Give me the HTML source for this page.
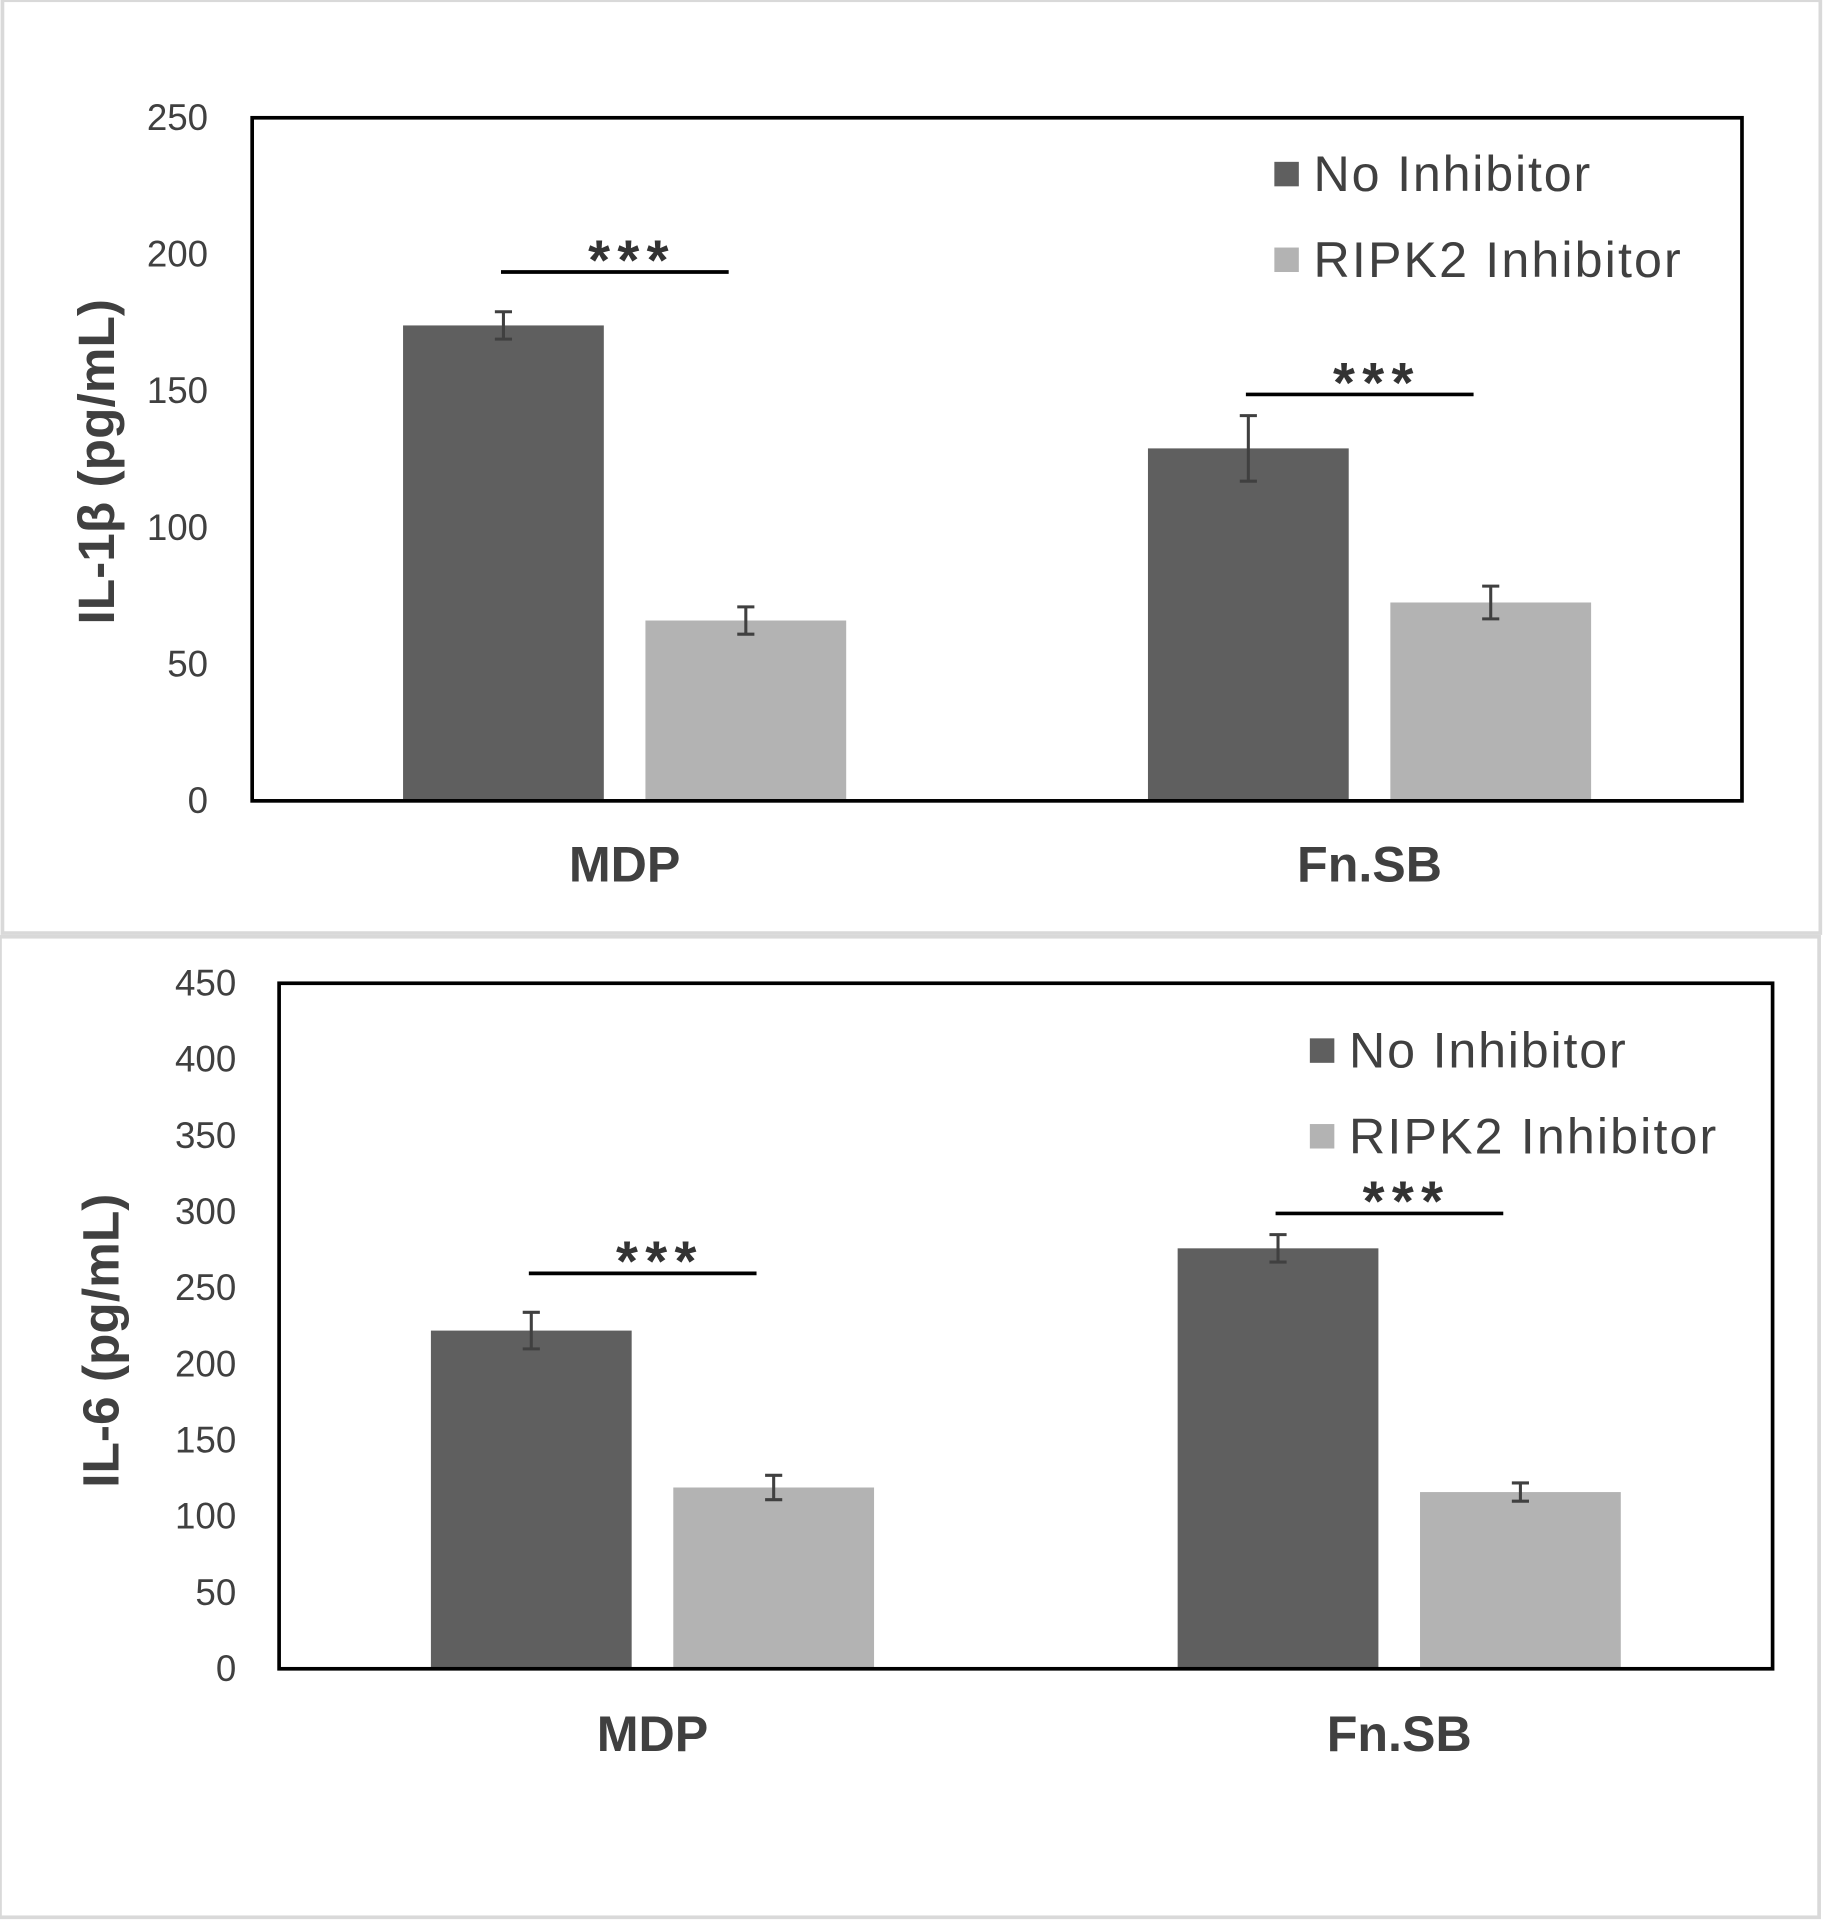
<!DOCTYPE html>
<html><head><meta charset="utf-8"><style>
html,body{margin:0;padding:0;background:#fff;}
svg{display:block;}
text{font-family:"Liberation Sans",sans-serif;}
</style></head><body>
<svg id="chart" width="1824" height="1920" viewBox="0 0 1490 1568" xmlns="http://www.w3.org/2000/svg"></svg>
<script>
const categories = ["MDP", "Fn.SB"];
const seriesNames = ["No Inhibitor", "RIPK2 Inhibitor"];
const il1bNoInh = [174, 129];
const il1bNoInhErr = [5, 12];
const il1bRipk2 = [66, 72.6];
const il1bRipk2Err = [5, 6];
const il1bTicks = [0, 50, 100, 150, 200, 250];
const il6NoInh = [222, 276];
const il6NoInhErr = [12, 9];
const il6Ripk2 = [119, 116];
const il6Ripk2Err = [8, 6];
const il6Ticks = [0, 50, 100, 150, 200, 250, 300, 350, 400, 450];

const svg = document.getElementById('chart');
const NS = 'http://www.w3.org/2000/svg';
function mk(tag, attrs, parent) {
  const e = document.createElementNS(NS, tag);
  for (const k in attrs) e.setAttribute(k, attrs[k]);
  (parent || svg).appendChild(e);
  return e;
}
const colors = ['#5f5f5f', '#b3b3b3'];

function panel(cfg) {
  const g = mk('g', {});
  
  
  const fr = mk('rect', {x: cfg.frame[0], y: cfg.frame[1], width: cfg.frame[2], height: cfg.frame[3], fill: 'none', stroke: '#d9d9d9', 'stroke-width': 3}, g);
  
  
  const [x0, y0, x1, y1] = cfg.plot;
  const maxV = cfg.ticks[cfg.ticks.length - 1];
  const yS = v => y1 - (v / maxV) * (y1 - y0);
  const groupW = (x1 - x0) / categories.length;
  const barW = 164, gap = 34;
  const xBar = (ci, si) => x0 + groupW * ci + groupW / 2 - gap / 2 - barW + si * (barW + gap);
  cfg.ticks.forEach(t => {
    const tl = mk('text', {x: cfg.tickX, y: yS(t) + 10, 'text-anchor': 'end', 'font-size': 30, fill: '#404040'}, g);
    tl.textContent = t;
    
    
  });
  const vals = [cfg.a, cfg.b], errs = [cfg.ae, cfg.be];
  categories.forEach((c, ci) => {
    [0, 1].forEach(si => {
      const v = vals[si][ci], e = errs[si][ci];
      const bx = xBar(ci, si);
      const r = mk('rect', {x: bx, y: yS(v), width: barW, height: y1 - yS(v), fill: colors[si]}, g);
      
      
      const cx = bx + barW / 2;
      const eb = mk('path', {d: `M${cx},${yS(v + e)}V${yS(v - e)}M${cx - 7},${yS(v + e)}H${cx + 7}M${cx - 7},${yS(v - e)}H${cx + 7}`, stroke: '#404040', 'stroke-width': 2.5, fill: 'none'}, g);
      
      
    });
    const lx = mk('text', {x: x0 + groupW * ci + groupW / 2, y: cfg.catY, 'text-anchor': 'middle', 'font-size': 41, 'font-weight': 'bold', fill: '#404040'}, g);
    lx.textContent = c;
    
    
    const sy = cfg.sig[ci];
    const sxa = xBar(ci, 0) + 80, sxb = xBar(ci, 1) + 68;
    const sl = mk('line', {x1: sxa, x2: sxb, y1: sy, y2: sy, stroke: '#000', 'stroke-width': 3}, g);
    
    
    const st = mk('text', {x: (sxa + sxb) / 2 + 14, y: sy + 6, 'text-anchor': 'middle', 'font-size': 46, 'font-weight': 'bold', fill: '#333', 'letter-spacing': 6}, g);
    st.textContent = '***';
    
    
  });
  const ax = mk('rect', {x: x0, y: y0, width: x1 - x0, height: y1 - y0, fill: 'none', stroke: '#000', 'stroke-width': 3}, g);
  
  
  seriesNames.forEach((n, si) => {
    const ly = cfg.leg[1] + si * 70;
    const sw = mk('rect', {x: cfg.leg[0], y: ly, width: 20, height: 20, fill: colors[si]}, g);
    
    
    const lt = mk('text', {x: cfg.leg[0] + 32, y: ly + 24, 'font-size': 41, fill: '#404040', textLength: si ? 300 : 226}, g);
    lt.textContent = n;
    
    
  });
  const yt = mk('text', {x: 0, y: 0, transform: `translate(${cfg.title[0]},${cfg.title[1]}) rotate(-90)`, 'text-anchor': 'middle', 'font-size': 42, 'font-weight': 'bold', fill: '#404040'}, g);
  yt.textContent = cfg.titleText;
  
  
}

panel({name: 'il1b-chart', frame: [2, 0, 1485, 762], plot: [206, 96, 1423, 654], ticks: il1bTicks,
  a: il1bNoInh, ae: il1bNoInhErr, b: il1bRipk2, be: il1bRipk2Err, tickX: 170, catY: 720,
  sig: [222, 322], leg: [1041, 132], title: [93, 377], titleText: 'IL-1β (pg/mL)'});
panel({name: 'il6-chart', frame: [0, 765, 1486, 801], plot: [228, 803, 1448, 1363], ticks: il6Ticks,
  a: il6NoInh, ae: il6NoInhErr, b: il6Ripk2, be: il6Ripk2Err, tickX: 193, catY: 1430,
  sig: [1040, 991], leg: [1070, 848], title: [97, 1095], titleText: 'IL-6 (pg/mL)'});
</script>
</body></html>
